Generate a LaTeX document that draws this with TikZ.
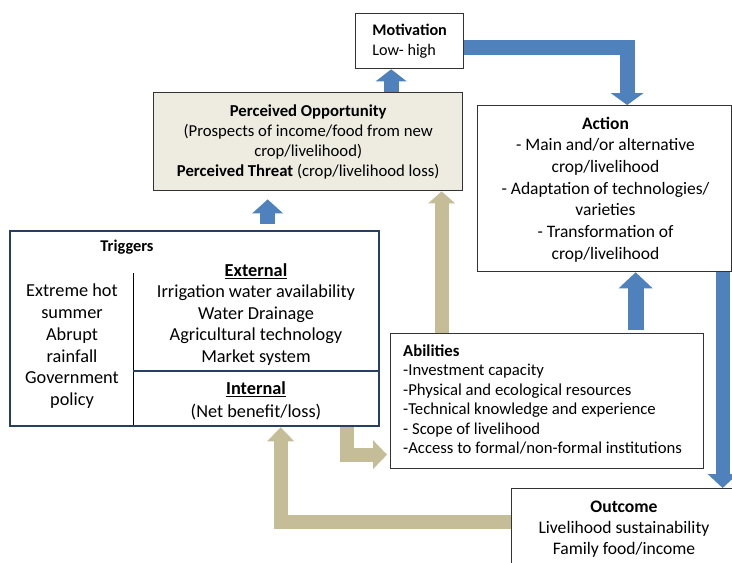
\documentclass[tikz,border=0pt]{standalone}
\usepackage{fontspec}
\setmainfont{Carlito}
\usetikzlibrary{arrows.meta,calc}
\definecolor{arrblue}{HTML}{4F81BD}
\definecolor{arrtan}{HTML}{C4BD97}
\definecolor{oppfill}{HTML}{EEECE1}
\definecolor{trignavy}{HTML}{254061}
\definecolor{boxline}{HTML}{333333}
\begin{document}
\begin{tikzpicture}[x=1pt,y=-1pt,
  box/.style={draw=boxline, line width=1.3pt, rectangle, inner sep=0pt, anchor=north west},
  txt/.style={inner sep=0pt, align=center},
  bluearr/.style={draw=arrblue, line width=15pt, line join=miter},
  tanarr/.style={draw=arrtan, line width=14pt, line join=miter},
]
\path[use as bounding box, clip] (0,0) rectangle (732,563);

% Motivation
\node[box, minimum width=108pt, minimum height=55pt, align=left,
  font=\fontsize{16.2}{20}\selectfont] (mot) at (355,13) {\textbf{Motivation}\\Low- high};

% Perceived opportunity
\node[box, fill=oppfill, line width=1.4pt, minimum width=309pt, minimum height=98pt, align=center,
  font=\fontsize{16.7}{20}\selectfont] (opp) at (153,92)
  {\textbf{Perceived Opportunity}\\(Prospects of income/food from new\\crop/livelihood)\\\textbf{Perceived Threat} (crop/livelihood loss)};

% Action
\node[box, minimum width=254pt, minimum height=166pt] (act) at (477,105) {};
\node[txt, font=\fontsize{17.5}{21.7}\selectfont] (actt) at (605.5,189.5)
  {\textbf{Action}\\- Main and/or alternative\\crop/livelihood\\- Adaptation of technologies/\\varieties\\- Transformation of\\crop/livelihood};

% Triggers
\node[box, draw=trignavy, line width=2.3pt, minimum width=369pt, minimum height=195pt] (trig) at (9,230) {};
\draw[black, line width=1pt] (133,273) -- (133,425);
\draw[trignavy, line width=1.5pt] (133,371) -- (378,371);
\node[txt, font=\fontsize{16.4}{20}\selectfont] (trigt) at (127,247) {\textbf{Triggers}};
\node[txt, font=\fontsize{18.3}{21.7}\selectfont] (trigl) at (72,346.3)
  {Extreme hot\\summer\\Abrupt\\rainfall\\Government\\policy};
\node[txt, font=\fontsize{18.3}{21.4}\selectfont] (trige) at (256,314.3)
  {\underline{\textbf{External}}\\Irrigation water availability\\Water Drainage\\Agricultural technology\\Market system};
\node[txt, font=\fontsize{18.3}{22.7}\selectfont] (trigi) at (256,400.5)
  {\underline{\textbf{Internal}}\\(Net benefit/loss)};

% Abilities
\node[box, minimum width=313pt, minimum height=135pt] (abil) at (390,333) {};
\node[txt, align=left, anchor=west, font=\fontsize{16.7}{19.5}\selectfont] (abilt) at (403,399.5)
  {\textbf{Abilities}\\-Investment capacity\\-Physical and ecological resources\\-Technical knowledge and experience\\- Scope of livelihood\\-Access to formal/non-formal institutions};

% Outcome
\node[box, minimum width=230pt, minimum height=90pt] (out) at (511,488) {};
\node[txt, font=\fontsize{17.6}{21}\selectfont] (outt) at (624,529.5)
  {\textbf{Outcome}\\Livelihood sustainability\\Family food/income};

% Arrows
\draw[bluearr, -{Triangle[width=31pt,length=12pt,line width=0pt]}]
  ([xshift=83pt]opp.north) -- ([xshift=83pt]opp.north |- mot.south);
\draw[bluearr, -{Triangle[width=31pt,length=14pt,line width=0pt]}]
  ([xshift=73pt,yshift=6pt]trig.north) -- ([xshift=73pt,yshift=-8pt]trig.north |- opp.south);
\draw[tanarr, -{Triangle[width=27pt,length=12pt,line width=0pt]}]
  ([xshift=-105.5pt]abil.north) -- ([xshift=-105.5pt]abil.north |- opp.south);
\draw[bluearr, line width=16pt, -{Triangle[width=34pt,length=16pt,line width=0pt]}]
  ([xshift=88.5pt,yshift=3pt]abil.north) -- ([xshift=88.5pt]abil.north |- act.south);
\draw[bluearr, line width=14pt, -{Triangle[width=30pt,length=14pt,line width=0pt]}]
  ([xshift=118pt]act.south) -- ([xshift=118pt]act.south |- out.north);
\draw[bluearr, -{Triangle[width=33pt,length=12pt,line width=0pt]}]
  ([yshift=-6pt]mot.east) -| ([xshift=22.5pt]act.north);
\draw[tanarr, -{Triangle[width=27pt,length=14pt,line width=0pt]}]
  ([yshift=12pt]out.west) -| ([xshift=86pt]trig.south);
\draw[tanarr, -{Triangle[width=29pt,length=14pt,line width=0pt]}]
  ([xshift=152.5pt]trig.south) |- ([xshift=-3pt,yshift=-53.5pt]abil.west);
\end{tikzpicture}
\end{document}
